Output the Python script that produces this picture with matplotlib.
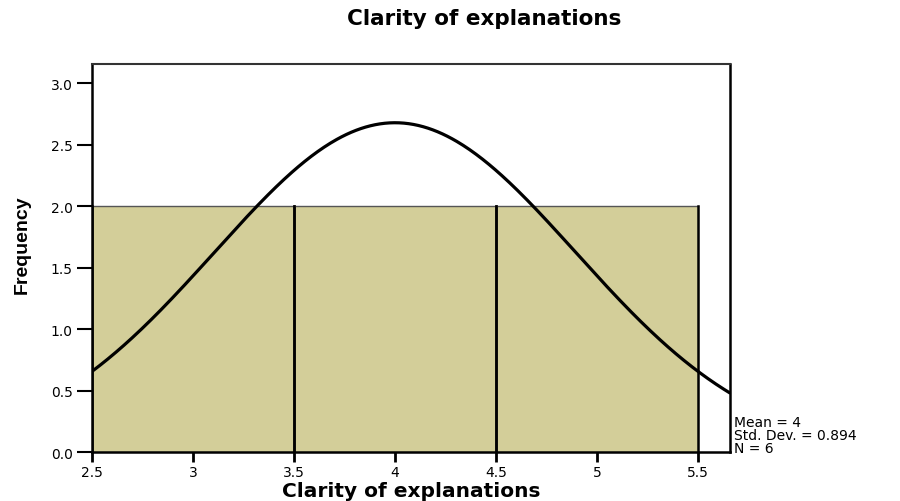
import numpy as np
import matplotlib
matplotlib.use("Agg")
import matplotlib.pyplot as plt

# Data
bin_edges = [2.5, 3.5, 4.5, 5.5]
counts = [2, 2, 2]
mean = 4.0
std_dev = 0.894
n_obs = 6
x_ticks = [2.5, 3, 3.5, 4, 4.5, 5, 5.5]
x_tick_labels = ["2.5", "3", "3.5", "4", "4.5", "5", "5.5"]
y_ticks = [0.0, 0.5, 1.0, 1.5, 2.0, 2.5, 3.0]
y_tick_labels = ["0.0", "0.5", "1.0", "1.5", "2.0", "2.5", "3.0"]

# the reference text is a wide Arial, DejaVu gets closer in width
plt.rcParams["font.family"] = ["DejaVu Sans"]

fig = plt.figure(figsize=(9, 5.02), dpi=100)
ax = fig.add_axes([0.1022, 0.0976, 0.7089, 0.7729])

bar_color = "#d3ce99"
widths = np.diff(bin_edges)
ax.bar(bin_edges[:-1], counts, width=widths, align="edge",
       color=bar_color, edgecolor="none", zorder=1)
# thin top edge and thick dividers like SPSS
for left, w, c in zip(bin_edges[:-1], widths, counts):
    ax.plot([left, left + w], [c, c], color="#555555", lw=1.0, zorder=2)
    ax.plot([left, left], [0, c], color="black", lw=1.8, zorder=2)
    ax.plot([left + w, left + w], [0, c], color="black", lw=1.8, zorder=2)

# fitted normal curve from the stated mean / sd / N
bw = widths[0]
xs = np.linspace(2.5, 5.66, 400)
ys = n_obs * bw / (std_dev * np.sqrt(2 * np.pi)) * np.exp(-0.5 * ((xs - mean) / std_dev) ** 2)
ax.plot(xs, ys, color="black", lw=2.3, zorder=3, solid_capstyle="butt")

ax.set_xlim(2.5, 5.658)
ax.set_ylim(0, 3.155)
ax.set_xticks(x_ticks)
ax.set_xticklabels(x_tick_labels, fontsize=10)
ax.set_yticks(y_ticks)
ax.set_yticklabels(y_tick_labels, fontsize=10)
ax.tick_params(axis="y", length=11, width=1.5, pad=3)
ax.tick_params(axis="x", length=7, width=2, pad=2)

for side in ["left", "bottom", "right"]:
    ax.spines[side].set_linewidth(1.8)
    ax.spines[side].set_color("black")
ax.spines["top"].set_linewidth(1.5)
ax.spines["top"].set_color("#333333")

ax.set_xlabel("Clarity of explanations", fontsize=14.5, fontweight="bold", labelpad=2)
fig.text(0.025, 0.513, "Frequency", rotation=90, fontsize=14, fontweight="bold",
         family=["Liberation Sans", "DejaVu Sans"],
         ha="center", va="center")

fig.text(0.538, 0.962, "Clarity of explanations", fontsize=15.5, fontweight="bold",
         ha="center", va="center")

stats = f"Mean = {mean:g}\nStd. Dev. = {std_dev}\nN = {n_obs}"
fig.text(0.816, 0.092, stats, fontsize=10, ha="left", va="bottom", linespacing=0.92)

fig.savefig("out.png", dpi=100)
